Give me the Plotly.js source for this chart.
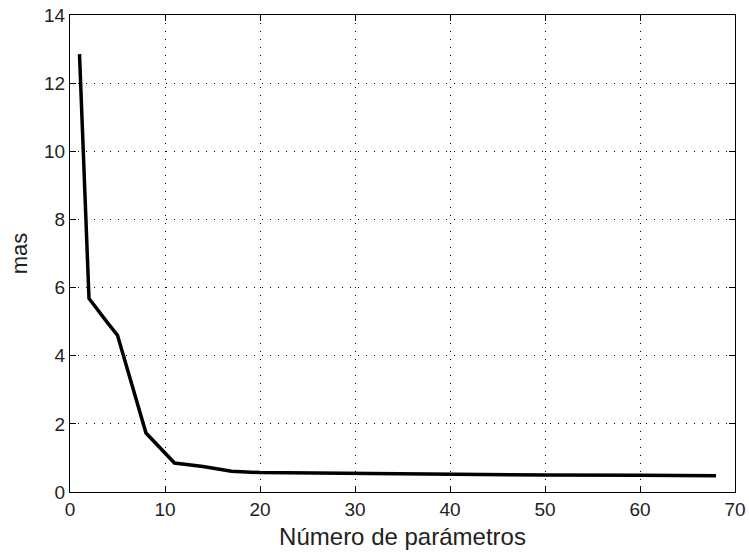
<!DOCTYPE html>
<html>
<head>
<meta charset="utf-8">
<script src="https://cdn.plot.ly/plotly-3.0.1.min.js"></script>
<style>html,body{margin:0;padding:0;background:#fff;}#chart{width:749px;height:558px;}</style>
</head>
<body>
<div id="chart"></div>
<script>
const numParams = [1, 2, 4, 5, 8, 11, 14, 17, 20, 30, 40, 50, 60, 68];
const masValues = [12.85, 5.68, 4.95, 4.6, 1.73, 0.85, 0.75, 0.61, 0.57, 0.54, 0.51, 0.5, 0.49, 0.48];
const xTicks = [0, 10, 20, 30, 40, 50, 60, 70];
const yTicks = [0, 2, 4, 6, 8, 10, 12, 14];
const xLabel = "Número de parámetros";
const yLabel = "mas";

const fontFam = "Liberation Sans, Arial, sans-serif";
const axisCommon = {
  showline: true, mirror: "ticks", linecolor: "#000", linewidth: 1,
  ticks: "inside", ticklen: 6, tickcolor: "#000", tickwidth: 1,
  showgrid: true, gridcolor: "#000", gridwidth: 1, griddash: "1px,7px",
  zeroline: false, tickfont: {family: fontFam, size: 19, color: "#222"},
  automargin: false, fixedrange: true
};

Plotly.newPlot("chart", [{
  x: numParams, y: masValues, type: "scatter", mode: "lines",
  line: {color: "#000", width: 3.5}, hoverinfo: "skip"
}], {
  width: 749, height: 558,
  margin: {l: 70, r: 14, t: 15, b: 66},
  paper_bgcolor: "#fff", plot_bgcolor: "#fff",
  showlegend: false,
  xaxis: Object.assign({}, axisCommon, {
    range: [0, 70], tickvals: xTicks, ticktext: xTicks.map(String),
    title: {text: xLabel, font: {family: fontFam, size: 24, color: "#222"}, standoff: 9}
  }),
  yaxis: Object.assign({}, axisCommon, {
    range: [0, 14], tickvals: yTicks, ticktext: yTicks.map(String),
    title: {text: yLabel, font: {family: fontFam, size: 22, color: "#222"}, standoff: 10}
  })
}, {displayModeBar: false, staticPlot: true});
</script>
</body>
</html>
